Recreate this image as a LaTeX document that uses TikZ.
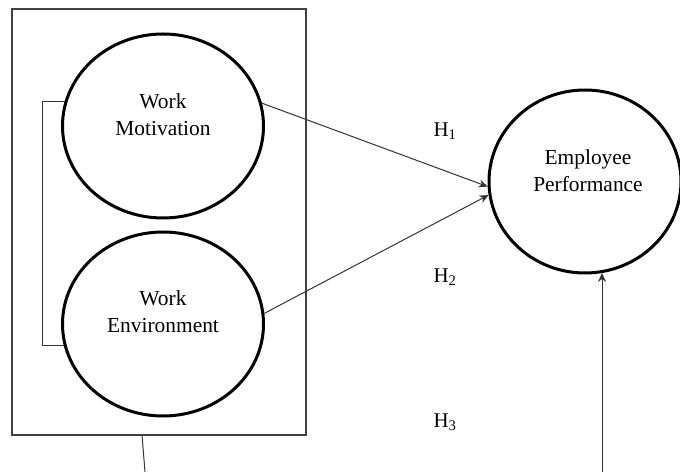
\documentclass[tikz,border=0pt]{standalone}
\usepackage{fontspec}
\setmainfont{Liberation Serif}
\usetikzlibrary{shapes.geometric,arrows.meta}
\begin{document}
\begin{tikzpicture}[x=1bp,y=-1bp,
  construct/.style={draw=black,line width=3bp,ellipse,inner sep=0pt},
  lbl/.style={font=\fontsize{21.5}{27}\selectfont,align=center,inner sep=0pt},
  hyp/.style={font=\fontsize{21}{24}\selectfont,inner sep=0pt},
  conn/.style={draw=black!80,line width=1bp},
  arr/.style={conn,-{Stealth[length=9bp,width=8bp]}}]
\useasboundingbox (0,0) rectangle (680,472);
\node[draw=black!75,line width=1.4bp,minimum width=294bp,minimum height=426bp,inner sep=0pt] (frame) at (159,222) {};
\node[construct,minimum width=201bp,minimum height=184bp] (wm) at (163,126) {};
\node[construct,minimum width=201bp,minimum height=184bp] (we) at (163,324) {};
\node[construct,minimum width=192bp,minimum height=183bp] (ep) at (585,181.5) {};
\node[lbl] (twm) at (163,114.5) {Work\\Motivation};
\node[lbl] (twe) at (163,311.5) {Work\\Environment};
\node[lbl] (tep) at (588,171) {Employee\\Performance};
\node[hyp] (h1) at (445,131) {H\textsubscript{1}};
\node[hyp] (h2) at (445,277) {H\textsubscript{2}};
\node[hyp] (h3) at (445,422) {H\textsubscript{3}};
\draw[conn] (wm.166) -- ++(-22,0) |- (we.192);
\draw[arr] (wm.13) -- (ep.183.5);
\draw[arr] (we.6) -- (ep.188.5);
\coordinate (a1) at (142,435);
\coordinate (a2) at (145,472);
\draw[conn] (a1) -- (a2);
\coordinate (b1) at (602,472);
\draw[arr] (b1) -- (b1 |- ep.281);
\end{tikzpicture}
\end{document}
